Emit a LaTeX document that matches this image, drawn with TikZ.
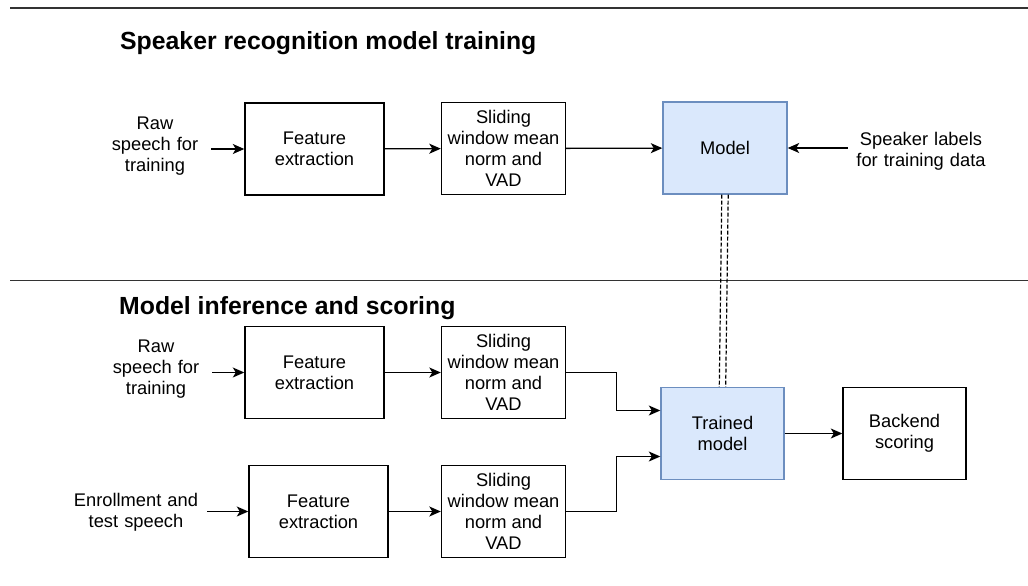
\documentclass[tikz,border=0pt]{standalone}
\usepackage{fontspec}
\setmainfont{Liberation Sans}
\usetikzlibrary{arrows.meta}
\definecolor{mfill}{HTML}{DAE8FC}
\definecolor{mdraw}{HTML}{6C8EBF}
\definecolor{sepgray}{HTML}{333333}

\begin{document}
\begin{tikzpicture}[
  x=1pt,y=-1pt,
  every node/.style={font=\fontsize{18.3}{21}\selectfont,align=center,inner sep=0pt},
  title/.style={font=\fontsize{24.8}{28}\selectfont\bfseries,anchor=base west},
  lbl/.style={text width=#1},
  box/.style={draw=black,line width=1.4pt,minimum height=92pt},
  mbox/.style={draw=mdraw,fill=mfill,line width=1.4pt,minimum width=124pt,minimum height=92pt},
  arr/.style={line width=1.3pt,-{Stealth[length=11.5pt,width=10pt,inset=3pt]}},
  link/.style={line width=1.2pt,dash pattern=on 4pt off 2pt},
  sep/.style={sepgray,line width=1.4pt}
]
  \useasboundingbox (0,0) rectangle (1028,586);

  \draw[sep] (10,8) -- (1028,8);
  \draw[sep] (10,280.5) -- (1028,280.5);

  \node[title] (t1) at (120,50) {Speaker recognition model training};
  \node[title] (t2) at (119,314) {Model inference and scoring};

  \node[lbl=112pt] (raw1) at (155,146) {Raw\\speech for\\training};
  \node[box,minimum width=139pt] (fe1) at (314.5,149) {Feature\\extraction};
  \node[box,minimum width=124pt] (sw1) at (503.5,148.5) {Sliding\\window mean\\norm and\\VAD};
  \node[mbox] (model) at (725,148) {Model};
  \node[lbl=146pt] (spk) at (921,151) {Speaker labels\\for training data};

  \node[lbl=112pt] (raw2) at (156,369) {Raw\\speech for\\training};
  \node[box,minimum width=139pt] (fe2) at (314.5,372.5) {Feature\\extraction};
  \node[box,minimum width=124pt] (sw2) at (503.5,372.5) {Sliding\\window mean\\norm and\\VAD};

  \node[lbl=142pt] (enr) at (136,512) {Enrollment and\\test speech};
  \node[box,minimum width=139pt] (fe3) at (318.5,511.5) {Feature\\extraction};
  \node[box,minimum width=124pt] (sw3) at (503.5,511.5) {Sliding\\window mean\\norm and\\VAD};

  \node[mbox,minimum width=123pt] (trained) at (722.5,433.5) {Trained\\model};
  \node[box,minimum width=123pt] (backend) at (904.5,433.5) {Backend\\scoring};

  \draw[arr] (raw1.east |- fe1) -- (fe1);
  \draw[arr] (fe1) -- (sw1);
  \draw[arr] (sw1) -- (model);
  \draw[arr] (spk.west |- model) -- (model);

  \draw[link] ([xshift=-3.2pt]model.south) -- ([xshift=-3.2pt]trained.north);
  \draw[link] ([xshift=3.2pt]model.south) -- ([xshift=3.2pt]trained.north);

  \draw[arr] (raw2.east |- fe2) -- (fe2);
  \draw[arr] (fe2) -- (sw2);
  \draw[arr] (enr.east |- fe3) -- (fe3);
  \draw[arr] (fe3) -- (sw3);
  \draw[arr] (sw2.east) -- ++(50,0) |- ([yshift=23pt]trained.west);
  \draw[arr] (sw3.east) -- ++(50,0) |- ([yshift=-23pt]trained.west);
  \draw[arr] (trained) -- (backend);
\end{tikzpicture}
\end{document}
